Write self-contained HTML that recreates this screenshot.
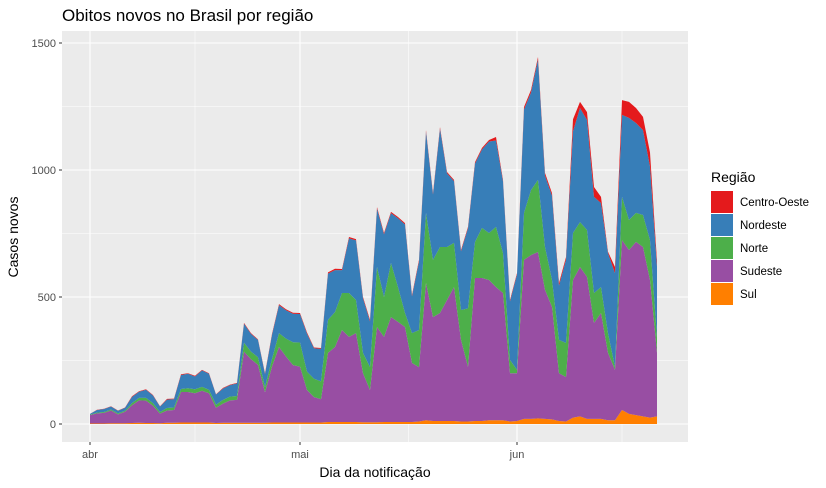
<!DOCTYPE html>
<html><head><meta charset="utf-8">
<style>
html,body{margin:0;padding:0;background:#fff;}
svg{display:block;font-family:"Liberation Sans",sans-serif;}
</style></head>
<body>
<svg id="chart" width="826" height="488" viewBox="0 0 826 488">
  <text x="62" y="21" font-size="17" fill="#000">Obitos novos no Brasil por região</text>
  <rect x="62" y="31" width="626" height="411" fill="#EBEBEB"/>
  <g id="grid"></g>
  <g id="areas"></g>
  <g id="axes"></g>
  <text x="375" y="477" font-size="14" text-anchor="middle" fill="#000">Dia da notificação</text>
  <text transform="translate(18,237) rotate(-90)" font-size="14" text-anchor="middle" fill="#000">Casos novos</text>
  <g id="legend">
    <text x="711" y="182" font-size="14" fill="#000">Região</text>
  </g>
</svg>
<script>
const seriesNames = ["Sul","Sudeste","Norte","Nordeste","Centro-Oeste"];
const seriesColors = ["#FF7F00","#984EA3","#4DAF4A","#377EB8","#E41A1C"];
const sul = [2,2,2,3,3,3,4,5,4,4,3,5,5,6,6,6,6,6,4,5,5,5,5,5,5,5,6,6,6,6,6,6,6,6,8,8,8,8,8,7,7,7,8,8,8,8,8,10,15,12,12,12,12,10,10,12,12,15,15,15,10,12,20,20,22,20,18,12,10,25,30,20,20,20,15,15,55,40,35,30,25,30];
const sudeste = [33,40,42,50,35,45,70,88,88,68,38,48,50,120,120,115,125,115,60,75,88,90,280,250,228,120,220,297,260,226,220,128,100,92,272,295,362,335,350,193,127,375,335,413,394,374,232,214,540,409,425,476,527,321,215,563,563,552,524,501,190,188,626,645,655,508,443,188,175,542,588,559,378,417,265,198,669,645,682,667,542,250];
const norte = [2,3,3,4,4,4,8,10,11,10,6,10,10,12,15,16,15,14,12,15,15,15,35,30,30,20,30,55,70,90,95,72,72,70,130,138,146,173,130,80,90,236,157,213,137,55,118,146,276,225,260,209,174,118,230,142,197,185,237,157,52,13,185,256,284,169,106,131,134,185,177,185,118,102,78,11,170,118,114,126,157,60];
const nordeste = [3,10,12,12,10,12,25,24,32,30,22,33,33,55,57,50,65,63,40,45,45,50,75,70,68,52,95,110,112,112,112,150,120,128,182,165,90,215,235,215,180,230,247,196,271,349,145,270,320,258,466,290,243,231,316,308,309,360,340,282,231,376,407,384,474,281,332,214,328,400,449,433,378,331,315,370,323,402,354,334,290,280];
const centroOeste = [0,1,1,1,1,1,2,2,2,2,1,3,2,3,2,3,2,2,1,2,2,2,3,3,2,3,4,4,4,4,4,4,3,3,5,5,4,5,5,5,6,6,5,5,5,5,5,6,6,5,6,5,5,5,5,6,6,6,14,6,5,5,10,10,10,10,10,10,10,48,24,31,39,24,5,24,58,63,59,52,55,20];
const dayOffsets = sul.map((_, i) => i); // days since 1 April
const yTicks = [0,500,1000,1500];
const yMinor = [250,750,1250];
const xTickDays = [0,30,61];
const xTickLabels = ["abr","mai","jun"];
const xMinorDays = [15,45.5,76];

const X0 = 62, X1 = 688, Y0 = 31, Y1 = 442;
function xScale(d){ return 90 + d * (517 - 90) / 61; }
function yScale(v){ return 424 - v * 0.254; }
const NS = "http://www.w3.org/2000/svg";
function mk(tag, attrs, parent){
  const el = document.createElementNS(NS, tag);
  for (const k in attrs) el.setAttribute(k, attrs[k]);
  parent.appendChild(el); return el;
}
const grid = document.getElementById('grid');
yMinor.forEach(v => {
  const l = mk('line',{x1:X0,x2:X1,y1:yScale(v),y2:yScale(v),stroke:'#fff','stroke-width':0.55},grid);
  
  
});
xMinorDays.forEach(d => {
  const l = mk('line',{x1:xScale(d),x2:xScale(d),y1:Y0,y2:Y1,stroke:'#fff','stroke-width':0.55},grid);
  
  
});
yTicks.forEach(v => {
  const l = mk('line',{x1:X0,x2:X1,y1:yScale(v),y2:yScale(v),stroke:'#fff','stroke-width':1.1},grid);
  
  
});
xTickDays.forEach(d => {
  const l = mk('line',{x1:xScale(d),x2:xScale(d),y1:Y0,y2:Y1,stroke:'#fff','stroke-width':1.1},grid);
  
  
});

const layers = [sul, sudeste, norte, nordeste, centroOeste];
const areas = document.getElementById('areas');
const cum = dayOffsets.map(() => 0);
layers.forEach((arr, li) => {
  const lower = cum.slice();
  arr.forEach((v, i) => { cum[i] += v; });
  const upper = cum.slice();
  let d = '';
  dayOffsets.forEach((day, i) => { d += (i ? 'L' : 'M') + xScale(day).toFixed(2) + ',' + yScale(upper[i]).toFixed(2); });
  for (let i = dayOffsets.length - 1; i >= 0; i--) d += 'L' + xScale(dayOffsets[i]).toFixed(2) + ',' + yScale(lower[i]).toFixed(2);
  d += 'Z';
  const p = mk('path',{d:d,fill:seriesColors[li]},areas);
  
  
});

const axes = document.getElementById('axes');
yTicks.forEach((v, i) => {
  const t = mk('line',{x1:59,x2:62,y1:yScale(v),y2:yScale(v),stroke:'#333','stroke-width':1},axes);
  
  
  const tx = mk('text',{x:56,y:yScale(v)+4,'font-size':11,'text-anchor':'end',fill:'#4D4D4D'},axes);
  tx.textContent = String(v);
  
  
});
xTickDays.forEach((d, i) => {
  const t = mk('line',{x1:xScale(d),x2:xScale(d),y1:442,y2:445,stroke:'#333','stroke-width':1},axes);
  
  
  const tx = mk('text',{x:xScale(d),y:458,'font-size':11,'text-anchor':'middle',fill:'#4D4D4D'},axes);
  tx.textContent = xTickLabels[i];
  
  
});

const legend = document.getElementById('legend');
const legendOrder = [4,3,2,1,0];
legendOrder.forEach((li, k) => {
  const y = 191 + k * 23;
  const r = mk('rect',{x:711,y:y,width:22,height:22,fill:seriesColors[li]},legend);
  
  
  const tx = mk('text',{x:740,y:y+15,'font-size':11.5,fill:'#000'},legend);
  tx.textContent = seriesNames[li];
  
  
});
</script>
</body></html>
